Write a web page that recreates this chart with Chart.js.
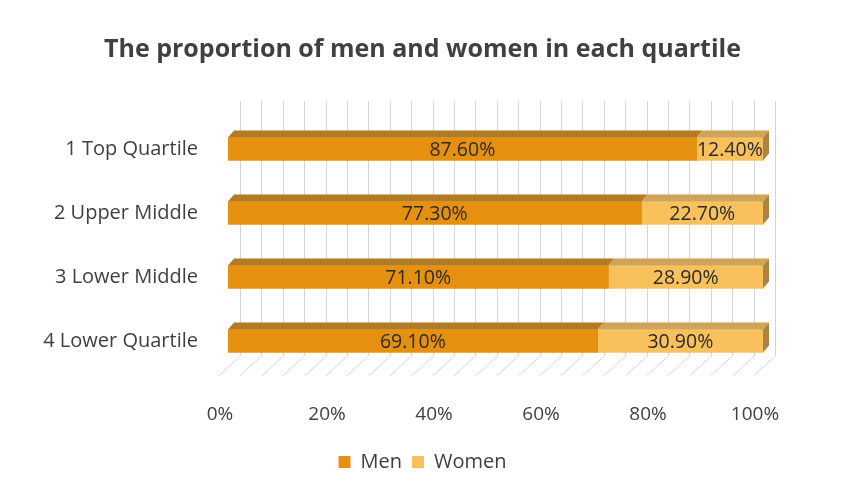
<!DOCTYPE html>
<html>
<head>
<meta charset="utf-8">
<script src="https://cdn.jsdelivr.net/npm/chart.js@4"></script>
<style>
  html, body { margin: 0; padding: 0; background: #fff; }
  #wrap { width: 845px; height: 495px; }
</style>
</head>
<body>
<div id="wrap"><canvas id="myChart"></canvas></div>
<script>
var quartiles = ["1 Top Quartile", "2 Upper Middle", "3 Lower Middle", "4 Lower Quartile"]
var menValues = [87.6, 77.3, 71.1, 69.1]
var womenValues = [12.4, 22.7, 28.9, 30.9]
var tickLabels = ["0%", "20%", "40%", "60%", "80%", "100%"]

var font = "Open Sans"
var textColor = "#404040"

// fake excel 3d look: back wall grid + floor, top and side faces on bars
var depth = { dx: 6, dy: 7 }

var gridPlugin = {
  id: "grid3d",
  beforeDatasetsDraw(chart) {
    var ctx = chart.ctx
    var x = chart.scales.x
    var area = chart.chartArea
    ctx.save()
    ctx.lineWidth = 1
    ctx.strokeStyle = "#d4d4d4"
    for (var v = 0; v <= 100; v += 4) {
      var px = Math.round(x.getPixelForValue(v)) + 0.5
      var bx = px + 12
      ctx.beginPath()
      ctx.moveTo(bx, area.top - 16)
      ctx.lineTo(bx, area.bottom - 17)
      ctx.lineTo(px - 10, area.bottom + 3)
      ctx.stroke()
    }
    ctx.restore()
  },
  afterDatasetsDraw(chart) {
    var ctx = chart.ctx
    ctx.save()
    var tops = ["#B27B24", "#CFA35A"]
    chart.data.datasets.forEach(function (ds, di) {
      chart.getDatasetMeta(di).data.forEach(function (bar, i) {
        var top = bar.y - bar.height / 2
        var bot = bar.y + bar.height / 2
        ctx.fillStyle = tops[di]
        ctx.beginPath()
        ctx.moveTo(bar.base, top)
        ctx.lineTo(bar.base + depth.dx, top - depth.dy)
        ctx.lineTo(bar.x + depth.dx, top - depth.dy)
        ctx.lineTo(bar.x, top)
        ctx.closePath()
        ctx.fill()
        if (di == chart.data.datasets.length - 1) {
          ctx.fillStyle = "#A98444"
          ctx.beginPath()
          ctx.moveTo(bar.x, top)
          ctx.lineTo(bar.x + depth.dx, top - depth.dy)
          ctx.lineTo(bar.x + depth.dx, bot - depth.dy)
          ctx.lineTo(bar.x, bot)
          ctx.closePath()
          ctx.fill()
        }
        // value label in middle of segment
        var val = ds.data[i]
        ctx.fillStyle = "#2b2b2b"
        ctx.font = "19.5px " + font
        ctx.textAlign = "center"
        ctx.textBaseline = "middle"
        ctx.fillText(val.toFixed(2) + "%", (bar.base + bar.x) / 2, bar.y + 1)
      })
    })
    ctx.restore()
  }
}

new Chart("myChart", {
  type: "bar",
  data: {
    labels: quartiles,
    datasets: [
      { label: "Men", data: menValues, backgroundColor: "#E6900F", barThickness: 23 },
      { label: "Women", data: womenValues, backgroundColor: "#F8C15C", barThickness: 23 }
    ]
  },
  options: {
    indexAxis: "y",
    responsive: true,
    maintainAspectRatio: false,
    animation: false,
    layout: { padding: { left: 0, right: 0, top: 0, bottom: 13 } },
    scales: {
      x: {
        stacked: true,
        min: 0,
        max: 100,
        border: { display: false },
        grid: { display: false },
        ticks: {
          stepSize: 4,
          autoSkip: false,
          maxRotation: 0,
          padding: 22,
          labelOffset: -8,
          color: textColor,
          font: { family: font, size: 19 },
          callback: function (v) { return v % 20 == 0 ? tickLabels[v / 20] : "" }
        },
        afterFit: function (s) { s.height = 69 }
      },
      y: {
        stacked: true,
        border: { display: false },
        grid: { display: false },
        ticks: { color: textColor, padding: 22, font: { family: font, size: 20 } },
        afterFit: function (s) { s.width = 228 }
      },
      // empty axis on the right, only to keep space so the title stays centred
      yRight: {
        type: "category",
        labels: quartiles,
        position: "right",
        border: { display: false },
        grid: { display: false },
        ticks: { display: false },
        afterFit: function (s) { s.width = 82 }
      }
    },
    plugins: {
      title: {
        display: true,
        text: "The proportion of men and women in each quartile",
        color: textColor,
        font: { family: font, size: 25, weight: "bold" },
        padding: { top: 35, bottom: 52 }
      },
      legend: {
        position: "bottom",
        labels: {
          color: textColor,
          boxWidth: 12,
          boxHeight: 12,
          padding: 10,
          font: { family: font, size: 20 }
        }
      },
      tooltip: { enabled: false }
    }
  },
  plugins: [gridPlugin]
})
</script>
</body>
</html>
